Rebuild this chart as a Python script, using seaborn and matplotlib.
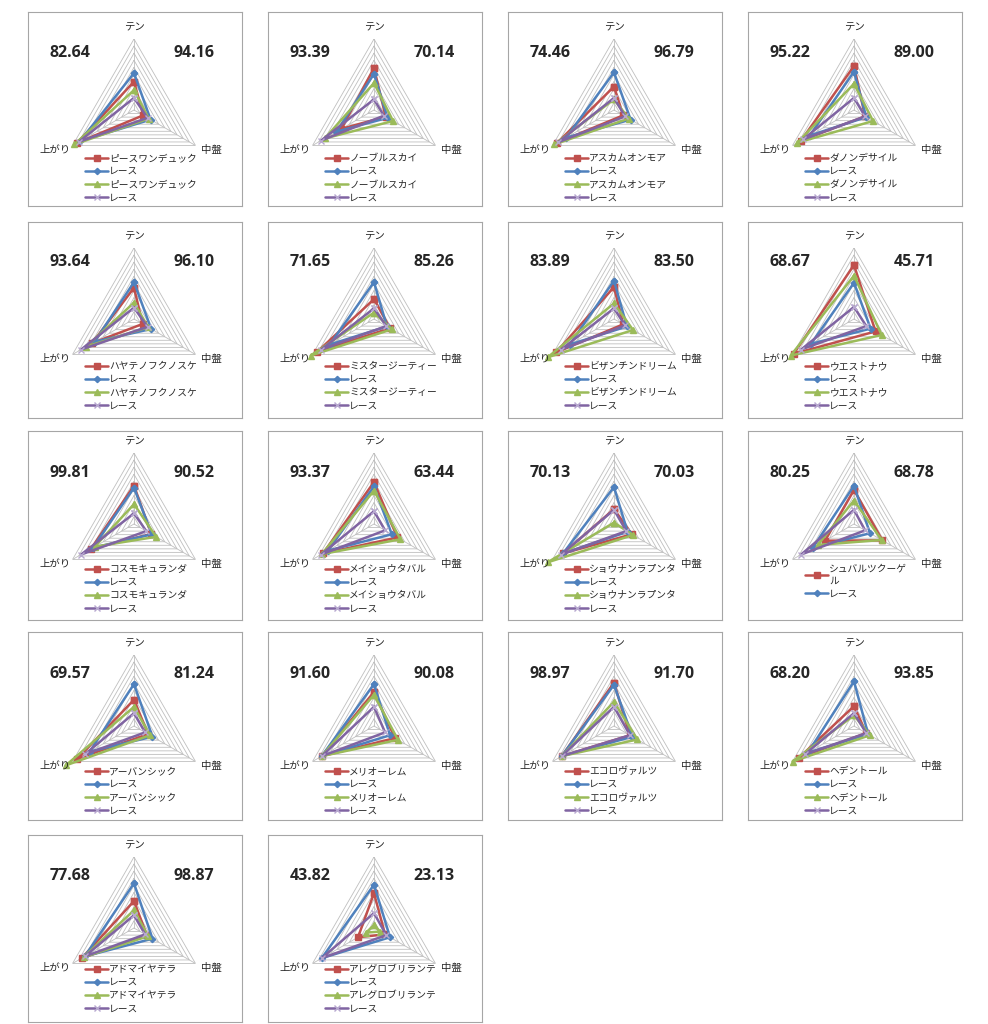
import numpy as np
import matplotlib.pyplot as plt
import seaborn as sns

names = ['ピースワンデュック', 'ノーブルスカイ', 'アスカムオンモア', 'ダノンデサイル',
         'ハヤテノフクノスケ', 'ミスタージーティー', 'ビザンチンドリーム', 'ウエストナウ',
         'コスモキュランダ', 'メイショウタバル', 'ショウナンラプンタ', 'シュバルツクーゲル',
         'アーバンシック', 'メリオーレム', 'エコロヴァルツ', 'ヘデントール',
         'アドマイヤテラ', 'アレグロブリランテ']
race_label = 'レース'
axis_labels = ['テン', '中盤', '上がり']

left_scores = [82.64, 93.39, 74.46, 95.22, 93.64, 71.65, 83.89, 68.67, 99.81,
               93.37, 70.13, 80.25, 69.57, 91.60, 98.97, 68.20, 77.68, 43.82]
right_scores = [94.16, 70.14, 96.79, 89.00, 96.10, 85.26, 83.50, 45.71, 90.52,
                63.44, 70.03, 68.78, 81.24, 90.08, 91.70, 93.85, 98.87, 23.13]

# values per panel: [テン, 中盤, 上がり]
horse_1 = [[40, 15, 92], [59, 19, 53], [33, 15, 92], [62, 18, 86], [44, 14, 68],
           [28, 26, 92], [45, 15, 94], [76, 35, 98], [54, 28, 70], [59, 38, 83],
           [21, 29, 83], [48, 46, 47], [37, 23, 92], [48, 34, 85], [61, 26, 85],
           [28, 20, 89], [38, 21, 85], [49, 18, 26]]
race_1 = [[52, 27, 88], [51, 22, 61], [53, 27, 78], [54, 20, 72], [52, 28, 64],
          [52, 21, 72], [54, 21, 72], [51, 27, 70], [51, 29, 67], [53, 29, 75],
          [52, 22, 83], [54, 26, 67], [59, 30, 72], [59, 26, 85], [58, 30, 85],
          [63, 23, 75], [63, 30, 80], [61, 26, 85]]
horse_2 = [[28, 24, 97], [38, 31, 80], [15, 24, 97], [37, 31, 92], [23, 23, 78],
           [9, 29, 103], [22, 31, 108], [61, 45, 103], [28, 36, 64], [47, 43, 85],
           [2, 31, 108], [33, 45, 59], [27, 26, 111], [44, 39, 85], [34, 38, 85],
           [15, 26, 100], [25, 23, 82], [4, 10, 13]]
race_2 = [[17, 22, 90], [15, 16, 86], [17, 18, 91], [17, 18, 83], [16, 22, 86],
          [15, 20, 86], [15, 18, 86], [17, 20, 86], [15, 20, 86], [18, 18, 86],
          [20, 20, 86], [20, 18, 86], [18, 18, 80], [27, 18, 85], [27, 26, 85],
          [18, 20, 80], [18, 18, 80], [21, 20, 85]]

sns.set_theme(style='white')
plt.rcParams['font.family'] = ['Noto Sans CJK JP', 'DejaVu Sans']

W, H = 988, 1024
fig = plt.figure(figsize=(W / 100, H / 100), dpi=100)

col_left = [28, 268, 508, 748]
row_top = [12, 222, 431, 632, 835]
row_height = [194, 196, 189, 188, 187]
apex_y = [27, 26, 22, 23, 22]
legend_y = [141, 139, 133, 134, 129]
num_y = [41, 40, 42, 42, 41]
box_w = 214
R = 71
cx = 106
grid_color = '#BFBFBF'

styles = [
    dict(color='#C0504D', marker='s', markersize=4.5, mec='#C0504D'),
    dict(color='#4F81BD', marker='D', markersize=3.2, mec='#4F81BD'),
    dict(color='#9BBB59', marker='^', markersize=5, mec='#9BBB59'),
    dict(color='#8064A2', marker='x', markersize=4, mec='#B8A9D0'),
]


def px_rect(x, y, w, h):
    return [x / W, 1 - (y + h) / H, w / W, h / H]


theta = np.deg2rad([0, 120, 240, 360])

for i, name in enumerate(names):
    r, c = divmod(i, 4)
    left, top, h = col_left[c], row_top[r], row_height[r]

    box = fig.add_axes(px_rect(left, top, box_w, h))
    box.set_xlim(0, box_w)
    box.set_ylim(h, 0)
    box.set_xticks([])
    box.set_yticks([])
    for sp in box.spines.values():
        sp.set_color('#A6A6A6')
        sp.set_linewidth(0.8)

    cy = apex_y[r] + R
    ax = fig.add_axes(px_rect(left + cx - R, top + cy - R, 2 * R, 2 * R), projection='polar')
    ax.set_theta_zero_location('N')
    ax.set_theta_direction(-1)
    ax.patch.set_alpha(0)
    ax.spines['polar'].set_visible(False)

    for ring in range(10, 101, 10):
        ax.plot(theta, [ring] * 4, color=grid_color, lw=0.6, zorder=1)
    for t in theta[:3]:
        ax.plot([t, t], [0, 100], color=grid_color, lw=0.6, zorder=1)

    handles = []
    for vals, st in zip([horse_1, race_1, horse_2, race_2], styles):
        v = vals[i] + [vals[i][0]]
        sns.lineplot(x=theta, y=v, sort=False, estimator=None, ax=ax,
                     color=st['color'], lw=1.8, marker=st['marker'],
                     markersize=st['markersize'], markeredgecolor=st['mec'],
                     markerfacecolor=st['color'], markeredgewidth=1.0,
                     clip_on=False, zorder=3)
        handles.append(ax.lines[-1])

    ax.set_ylim(0, 100)
    ax.grid(False)
    ax.set_xticks([])
    ax.set_yticks([])
    ax.set_xlabel('')
    ax.set_ylabel('')

    ax.annotate(axis_labels[0], xy=(0, 100), xytext=(0, 8), textcoords='offset points',
                ha='center', va='center', fontsize=7.5, annotation_clip=False)
    ax.annotate(axis_labels[1], xy=(theta[1], 100), xytext=(4, -3), textcoords='offset points',
                ha='left', va='center', fontsize=7.5, annotation_clip=False)
    ax.annotate(axis_labels[2], xy=(theta[2], 100), xytext=(-1.5, -3), textcoords='offset points',
                ha='right', va='center', fontsize=7.5, annotation_clip=False)

    box.text(42, num_y[r], f'{left_scores[i]:.2f}', ha='center', va='center',
             fontsize=11.5, fontweight='bold', family='Open Sans')
    box.text(166, num_y[r], f'{right_scores[i]:.2f}', ha='center', va='center',
             fontsize=11.5, fontweight='bold', family='Open Sans')

    if i == 11:
        labels = ['シュバルツクーゲ\nル', race_label]
        leg_handles = handles[:2]
    else:
        labels = [name, race_label, name, race_label]
        leg_handles = handles
    box.legend(leg_handles, labels, loc='upper left',
               bbox_to_anchor=(57, legend_y[r]), bbox_transform=box.transData,
               frameon=False, fontsize=7, handlelength=2.4, handletextpad=0.1,
               labelspacing=0.33, borderpad=0, borderaxespad=0, numpoints=1)

fig.savefig('out.png', dpi=100, facecolor='white')
